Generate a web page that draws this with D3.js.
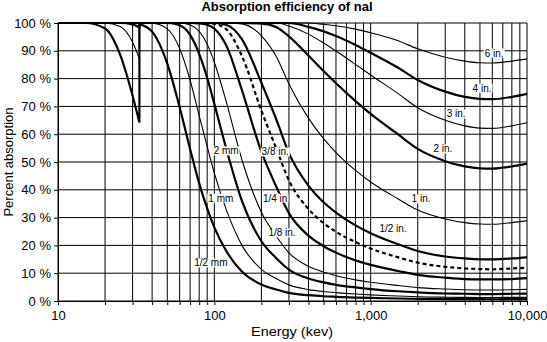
<!DOCTYPE html>
<html>
<head>
<meta charset="utf-8">
<script src="https://cdn.jsdelivr.net/npm/d3@7"></script>
<style>
  html, body { margin: 0; padding: 0; background: #fff; }
  svg text { font-family: "Liberation Sans", Arial, Helvetica, sans-serif; fill: #000; }
</style>
</head>
<body>
<svg id="chart" width="547" height="342"></svg>
<script>
// ---------- data ----------
const energies = [10, 15, 20, 25, 30, 33.17, 33.17, 40, 50, 60, 70, 80, 90, 100, 120, 150, 200, 250, 300, 400, 500, 600, 800, 1000, 1500, 2000, 3000, 4000, 5000, 6000, 8000, 10000];
const edgeIndex = 6; // iodine K-edge: values before / after the jump

const halfMm = [100, 100, 98.0, 88.5, 73.8, 64.2, 99.6, 96.9, 85.4, 69.7, 54.6, 42.3, 33.3, 26.5, 17.7, 10.6, 5.9, 4.1, 2.9, 2.1, 1.7, 1.5, 1.24, 1.09, 0.90, 0.78, 0.69, 0.65, 0.64, 0.63, 0.65, 0.67];
const oneMm = [100, 100, 100, 98.7, 93.1, 87.2, 100, 99.9, 97.9, 90.8, 79.4, 66.7, 55.6, 46.0, 32.4, 20.1, 11.4, 8.0, 5.8, 4.1, 3.4, 3.0, 2.5, 2.2, 1.8, 1.55, 1.37, 1.29, 1.27, 1.26, 1.29, 1.33];
const twoMm = [100, 100, 100, 100, 99.5, 98.4, 100, 100, 100, 99.2, 95.7, 88.9, 80.3, 70.9, 54.2, 36.1, 21.5, 15.3, 11.3, 8.1, 6.7, 5.8, 4.9, 4.3, 3.5, 3.1, 2.7, 2.6, 2.5, 2.5, 2.6, 2.65];
const eighthIn = [100, 100, 100, 100, 100, 100, 100, 100, 100, 100, 99.3, 97.0, 92.4, 85.9, 71.1, 50.9, 31.9, 23.2, 17.3, 12.5, 10.4, 9.1, 7.6, 6.75, 5.55, 4.8, 4.3, 4.05, 3.97, 3.96, 4.05, 4.17];
const quarterIn = [100, 100, 100, 100, 100, 100, 100, 100, 100, 100, 100, 99.9, 99.4, 98.0, 91.6, 75.9, 53.7, 40.9, 31.6, 23.5, 19.7, 17.4, 14.6, 13.0, 10.8, 9.4, 8.4, 7.9, 7.8, 7.8, 7.9, 8.2];
const threeEighthIn = [100, 100, 100, 100, 100, 100, 100, 100, 100, 100, 100, 100, 100, 99.7, 97.6, 88.2, 68.5, 54.6, 43.4, 33.1, 28.0, 24.9, 21.2, 18.9, 15.7, 13.8, 12.3, 11.7, 11.5, 11.4, 11.7, 12.0];
const halfIn = [100, 100, 100, 100, 100, 100, 100, 100, 100, 100, 100, 100, 100, 100, 99.3, 94.2, 78.5, 65.1, 53.2, 41.5, 35.5, 31.8, 27.2, 24.4, 20.4, 18.0, 16.0, 15.3, 15.0, 15.0, 15.3, 15.7];
const oneIn = [100, 100, 100, 100, 100, 100, 100, 100, 100, 100, 100, 100, 100, 100, 100, 99.7, 95.4, 87.8, 78.1, 65.8, 58.4, 53.4, 47.0, 42.8, 36.7, 32.7, 29.5, 28.2, 27.7, 27.6, 28.2, 28.9];
const twoIn = [100, 100, 100, 100, 100, 100, 100, 100, 100, 100, 100, 100, 100, 100, 100, 100, 99.8, 98.5, 95.2, 88.3, 82.7, 78.3, 71.9, 67.3, 59.9, 54.7, 50.3, 48.4, 47.7, 47.6, 48.4, 49.4];
const threeIn = [100, 100, 100, 100, 100, 100, 100, 100, 100, 100, 100, 100, 100, 100, 100, 100, 100, 100, 98.95, 96.0, 92.8, 89.9, 85.1, 81.3, 74.6, 69.5, 65.0, 63.0, 62.2, 62.1, 63.0, 64.1];
const fourIn = [100, 100, 100, 100, 100, 100, 100, 100, 100, 100, 100, 100, 100, 100, 100, 100, 100, 100, 100, 98.6, 97.0, 95.3, 92.1, 89.3, 83.9, 79.5, 75.3, 73.4, 72.7, 72.6, 73.4, 74.5];
const sixIn = [100, 100, 100, 100, 100, 100, 100, 100, 100, 100, 100, 100, 100, 100, 100, 100, 100, 100, 100, 100, 99.5, 99.0, 97.8, 96.5, 93.6, 90.7, 87.7, 86.3, 85.7, 85.6, 86.3, 87.1];

const seriesNames = ["1/2 mm", "1 mm", "2 mm", "1/8 in.", "1/4 in", "3/8 in.", "1/2 in.", "1 in.", "2 in.", "3 in.", "4 in.", "6 in."];
const seriesValues = [halfMm, oneMm, twoMm, eighthIn, quarterIn, threeEighthIn, halfIn, oneIn, twoIn, threeIn, fourIn, sixIn];
const seriesStyle = ["thick", "thin", "thick", "thin", "thick", "dashed", "thick", "thin", "thick", "thin", "thick", "thin"];

// label anchor points (energy keV, percent)
const labelEnergy = [95, 110, 119, 271, 245, 245, 1390, 2100, 2900, 3520, 5160, 6170];
const labelPercent = [13.7, 37, 54, 24.5, 37, 53.6, 25.9, 36.7, 54.7, 67.3, 76.6, 89.2];

const yTicks = [0, 10, 20, 30, 40, 50, 60, 70, 80, 90, 100];
const xDecades = [10, 100, 1000, 10000];
const xDecadeLabels = ["10", "100", "1,000", "10,000"];

const titleText = "Absorption efficiency of naI";
const xTitle = "Energy (kev)";
const yTitle = "Percent absorption";

// ---------- chart ----------
const svg = d3.select("#chart");
const mLeft = 58, mRight = 527, mTop = 23, mBottom = 301;
const x = d3.scaleLog().domain([10, 10000]).range([mLeft, mRight]);
const y = d3.scaleLinear().domain([0, 100]).range([mBottom, mTop]);

// grid
const g = svg.append("g");
const xGridVals = x.ticks();
g.selectAll("line.vg").data(xGridVals).join("line")
  .attr("x1", d => x(d)).attr("x2", d => x(d))
  .attr("y1", mTop).attr("y2", mBottom)
  .attr("stroke", "#000").attr("stroke-width", 1);
g.selectAll("line.hg").data(yTicks).join("line")
  .attr("x1", mLeft).attr("x2", mRight)
  .attr("y1", d => y(d)).attr("y2", d => y(d))
  .attr("stroke", "#000").attr("stroke-width", 1);

// axes
const xAxis = d3.axisBottom(x).tickValues(xGridVals).tickSize(4).tickSizeOuter(0)
  .tickFormat(d => { const i = xDecades.indexOf(d); return i >= 0 ? xDecadeLabels[i] : ""; });
const xg = svg.append("g").attr("transform", `translate(0,${mBottom})`).call(xAxis);
xg.select(".domain").attr("stroke", "#000");
xg.selectAll(".tick line").attr("stroke", "#000");
xg.selectAll(".tick text").attr("font-size", 13).attr("dy", "12").attr("font-family", null);

const yAxis = d3.axisLeft(y).tickValues(yTicks).tickSize(4).tickSizeOuter(0)
  .tickFormat(d => d + " %");
const yg = svg.append("g").attr("transform", `translate(${mLeft},0)`).call(yAxis);
yg.select(".domain").attr("stroke", "#000");
yg.selectAll(".tick line").attr("stroke", "#000");
yg.selectAll(".tick text").attr("font-size", 13).attr("x", -7).attr("font-family", null);

// curves
const line = d3.line().x(d => x(d[0])).y(d => y(d[1])).curve(d3.curveMonotoneX);
const curves = svg.append("g").attr("fill", "none");
seriesValues.forEach((vals, si) => {
  const pts = energies.map((e, i) => [e, vals[i]]);
  const a = pts.slice(0, edgeIndex), b = pts.slice(edgeIndex);
  const st = seriesStyle[si];
  const w = st === "thin" ? 1.1 : 2.2;
  const dash = st === "dashed" ? "4,3" : null;
  const d = line(a) + "L" + x(b[0][0]) + "," + y(b[0][1]) + line(b).replace(/^M/, "L");
  curves.append("path").attr("d", d).attr("stroke", "#000")
    .attr("stroke-width", w).attr("stroke-dasharray", dash);
});

// curve labels
const lg = svg.append("g");
seriesNames.forEach((name, i) => {
  const cx = x(labelEnergy[i]), cy = y(labelPercent[i]);
  const t = lg.append("text").attr("x", cx).attr("y", cy).attr("dy", "0.35em")
    .attr("text-anchor", "middle").attr("font-size", 10).text(name);
  const bb = t.node().getBBox();
  lg.insert("rect", "text").attr("x", bb.x - 1).attr("y", bb.y + 1)
    .attr("width", bb.width + 2).attr("height", bb.height - 2).attr("fill", "#fff");
});

// titles
svg.append("text").attr("x", 287).attr("y", 11).attr("text-anchor", "middle")
  .attr("font-size", 13).attr("font-weight", "bold").text(titleText);
svg.append("text").attr("x", 292).attr("y", 336).attr("text-anchor", "middle")
  .attr("font-size", 13).attr("textLength", 82).attr("lengthAdjust", "spacingAndGlyphs").text(xTitle);
svg.append("text").attr("transform", "translate(13,162) rotate(-90)").attr("text-anchor", "middle")
  .attr("font-size", 13).text(yTitle);
</script>
</body>
</html>
